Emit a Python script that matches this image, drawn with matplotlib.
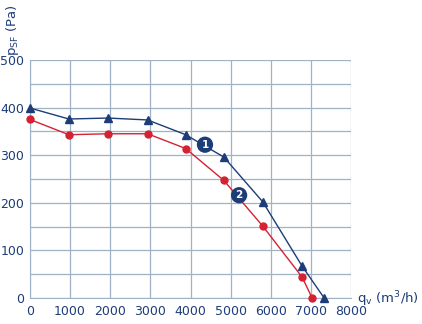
import matplotlib
matplotlib.use("Agg")
import matplotlib.pyplot as plt

# Data
q1 = [0, 970, 1950, 2930, 3880, 4830, 5800, 6780, 7330]
p1 = [399, 376, 378, 374, 343, 296, 202, 67, 0]
q2 = [0, 970, 1950, 2930, 3880, 4830, 5800, 6780, 7030]
p2 = [375, 343, 345, 345, 314, 247, 151, 44, 0]
xticks = [0, 1000, 2000, 3000, 4000, 5000, 6000, 7000, 8000]
yticks = [0, 100, 200, 300, 400, 500]

navy = "#1c3d78"
red = "#d42232"
grid = "#9fb2c6"
text = "#1c3d78"

fig = plt.figure(figsize=(4.22, 3.24), dpi=100)
ax = fig.add_axes([0.071, 0.080, 0.761, 0.735])
ax.set_xlim(0, 8000)
ax.set_ylim(0, 500)
ax.set_xticks(xticks)
ax.set_yticks(yticks)
ax.set_yticks(range(50, 500, 100), minor=True)
ax.grid(True, which="both", color=grid, linewidth=0.9)
ax.set_axisbelow(True)
for s in ["top", "right"]:
    ax.spines[s].set_visible(False)
for s in ["left", "bottom"]:
    ax.spines[s].set_color(grid)
ax.tick_params(which="both", length=0, labelsize=9, colors=text, pad=4)
ax.tick_params(axis="x", pad=5)

ax.plot(q1, p1, color=navy, lw=1.0, marker="^", ms=5.5, clip_on=False, zorder=3)
ax.plot(q2, p2, color=red, lw=1.0, marker="o", ms=5, clip_on=False, zorder=3)

ax.text(4360, 322, "1", ha="center", va="center", color="white", fontsize=7.5,
        fontweight="bold", zorder=5,
        bbox=dict(boxstyle="circle,pad=0.3", fc=navy, ec="none"))
ax.text(5210, 216, "2", ha="center", va="center", color="white", fontsize=7.5,
        fontweight="bold", zorder=5,
        bbox=dict(boxstyle="circle,pad=0.3", fc=navy, ec="none"))

fig.text(0.030, 0.985, r"p$_{\mathrm{SF}}$ (Pa)", rotation=90, ha="center", va="top",
         color=text, fontsize=9.5)
fig.text(0.845, 0.078, r"q$_{\mathrm{v}}$ (m$^{3}$/h)", ha="left", va="center",
         color=text, fontsize=9.5)

fig.savefig("out.png", dpi=100)
